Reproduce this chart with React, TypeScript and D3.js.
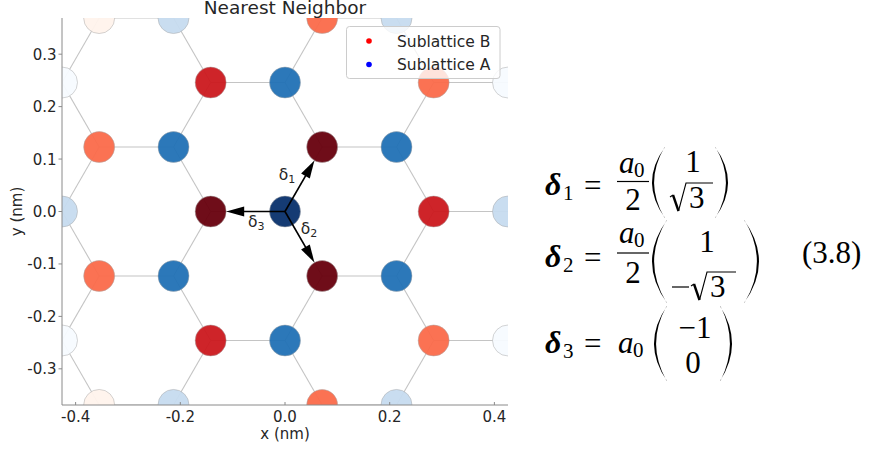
import React from "react";
import * as d3 from "d3";

const W = 880;
const H = 450;

// graphene carbon-carbon distance (nm)
const a0 = 0.142;
const xTicks = [-0.4, -0.2, 0.0, 0.2, 0.4];
const yTicks = [-0.3, -0.2, -0.1, 0.0, 0.1, 0.2, 0.3];
const xLim = [-0.426, 0.426];
const yLim = [-0.369, 0.369];

// neighbour shells around the central A atom (distance in nm) and their colours
const shellA = [0, 0.246, 0.426, 0.492];
const colorA = ["#08306b", "#2171b5", "#c6dbef", "#f7fbff"];
const shellB = [0.142, 0.284, 0.376, 0.512];
const colorB = ["#67000d", "#cb181d", "#fb6a4a", "#fff3ec"];

// nearest neighbour vectors in units of a0
const deltaNames = ["1", "2", "3"];
const deltaX = [0.5, 0.5, -1];
const deltaY = [Math.sqrt(3) / 2, -Math.sqrt(3) / 2, 0];
// where the δ labels sit (nm)
const labelX = [0.004, 0.046, -0.055];
const labelY = [0.07, -0.034, -0.02];

const legendNames = ["Sublattice B", "Sublattice A"];
const legendColors = ["#ff0000", "#0000ff"];

const cellRange = d3.range(-4, 5);

const margin = { left: 62, right: 372, top: 18, bottom: 45 };
const x = d3.scaleLinear().domain(xLim).range([margin.left, W - margin.right]);
const y = d3.scaleLinear().domain(yLim).range([H - margin.bottom, margin.top]);

const R = 15.5;

function shellColor(d: number, shells: number[], colors: string[]) {
  let best = colors.length - 1;
  shells.forEach((s, i) => {
    if (Math.abs(d - s) < 0.012) best = i;
  });
  return colors[best];
}

type Atom = { x: number; y: number; sub: "A" | "B"; color: string };

const atoms: Atom[] = [];
const bonds: { x1: number; y1: number; x2: number; y2: number }[] = [];
cellRange.forEach((i) => {
  cellRange.forEach((j) => {
    const ax = 1.5 * a0 * (i + j);
    const ay = (Math.sqrt(3) / 2) * a0 * (i - j);
    if (Math.abs(ax) > 0.7 || Math.abs(ay) > 0.6) return;
    atoms.push({ x: ax, y: ay, sub: "A", color: shellColor(Math.hypot(ax, ay), shellA, colorA) });
    const bx = ax + a0 * deltaX[2];
    const by = ay + a0 * deltaY[2];
    atoms.push({ x: bx, y: by, sub: "B", color: shellColor(Math.hypot(bx, by), shellB, colorB) });
    deltaX.forEach((dx, k) => {
      bonds.push({ x1: ax, y1: ay, x2: ax + a0 * dx, y2: ay + a0 * deltaY[k] });
    });
  });
});

const fmt = d3.format(".1f");
const tickColor = "#262626";
const spineColor = "#8a8a8a";

function Arrow({ k }: { k: number }) {
  const ox = x(0);
  const oy = y(0);
  const tx = x(a0 * deltaX[k]);
  const ty = y(a0 * deltaY[k]);
  const len = Math.hypot(tx - ox, ty - oy);
  const ux = (tx - ox) / len;
  const uy = (ty - oy) / len;
  const tipX = tx - ux * R;
  const tipY = ty - uy * R;
  const hl = 18;
  const hw = 5;
  const bx = tipX - ux * hl;
  const by = tipY - uy * hl;
  const pts = [
    [tipX, tipY],
    [bx - uy * hw, by + ux * hw],
    [bx + uy * hw, by - ux * hw],
  ];
  return (
    <g>
      <line x1={ox} y1={oy} x2={bx + ux * 2} y2={by + uy * 2} stroke="#000" strokeWidth={1.6} />
      <polygon points={pts.map((p) => p.join(",")).join(" ")} fill="#000" />
    </g>
  );
}

// big parenthesis drawn as a filled crescent
function Paren({ x0, x1, top, bot, right }: { x0: number; x1: number; top: number; bot: number; right?: boolean }) {
  // x0: extreme (bulge) x, x1: tips x
  const th = right ? -2.4 : 2.4;
  const mid = (top + bot) / 2;
  const c1 = 2 * x0 - x1;
  const c2 = 2 * (x0 + th) - x1;
  const e = right ? 0.6 : -0.6;
  const d = `M${x1},${top} Q${c1},${mid} ${x1},${bot} L${x1 + e},${bot - 0.5} Q${c2},${mid} ${x1 + e},${top + 0.5} Z`;
  return <path d={d} fill="#000" />;
}

function Radical({ x0, base, bar }: { x0: number; base: number; bar: number }) {
  const top = base - 24;
  return (
    <g fill="none" stroke="#000" strokeLinejoin="miter">
      <path d={`M${x0},${base - 10} L${x0 + 3},${base - 12}`} strokeWidth={1.1} />
      <path d={`M${x0 + 3},${base - 12} L${x0 + 8.5},${base + 4}`} strokeWidth={2.4} />
      <path d={`M${x0 + 8.5},${base + 4} L${x0 + 16},${top} L${x0 + 16 + bar},${top}`} strokeWidth={1.1} />
    </g>
  );
}

const mathFont = "Liberation Serif";
const FS = 31;
const SUB = 21;

function Delta({ px, base, sub }: { px: number; base: number; sub: string }) {
  return (
    <g fontFamily={mathFont}>
      <text x={px} y={base} fontSize={FS + 1} fontWeight="bold" fontStyle="italic">δ</text>
      <text x={px + 18} y={base + 5} fontSize={SUB}>{sub}</text>
    </g>
  );
}

function A0({ px, base }: { px: number; base: number }) {
  return (
    <g fontFamily={mathFont}>
      <text x={px} y={base} fontSize={FS} fontStyle="italic">a</text>
      <text x={px + 15} y={base + 4} fontSize={SUB}>0</text>
    </g>
  );
}

function Equations() {
  const t = { fontFamily: mathFont, fontSize: FS, fill: "#000" } as const;
  return (
    <g>
      {/* δ1 */}
      <Delta px={545} base={195} sub="1" />
      <text {...t} x={584} y={196}>=</text>
      <A0 px={619} base={173} />
      <line x1={617} x2={649} y1={181.5} y2={181.5} stroke="#000" strokeWidth={1.2} />
      <text {...t} x={633} y={210} textAnchor="middle">2</text>
      <Paren x0={652} x1={665} top={147} bot={218} />
      <text {...t} x={693} y={172} textAnchor="middle">1</text>
      <Radical x0={670} base={207} bar={27} />
      <text {...t} x={689} y={208}>3</text>
      <Paren x0={728} x1={715} top={147} bot={218} right />

      {/* δ2 */}
      <Delta px={545} base={267} sub="2" />
      <text {...t} x={584} y={268}>=</text>
      <A0 px={619} base={243} />
      <line x1={617} x2={649} y1={253} y2={253} stroke="#000" strokeWidth={1.2} />
      <text {...t} x={633} y={283} textAnchor="middle">2</text>
      <Paren x0={652} x1={667} top={220} bot={303} />
      <text {...t} x={707} y={252} textAnchor="middle">1</text>
      <line x1={672} x2={689} y1={287} y2={287} stroke="#000" strokeWidth={1.2} />
      <Radical x0={691} base={296} bar={29} />
      <text {...t} x={710} y={297}>3</text>
      <Paren x0={759} x1={744} top={220} bot={303} right />
      <text {...t} x={802} y={263}>(3.8)</text>

      {/* δ3 */}
      <Delta px={545} base={353} sub="3" />
      <text {...t} x={584} y={354}>=</text>
      <A0 px={618} base={353} />
      <Paren x0={654} x1={667} top={306} bot={381} />
      <text {...t} x={695} y={338} textAnchor="middle">−1</text>
      <text {...t} x={693} y={373} textAnchor="middle">0</text>
      <Paren x0={732} x1={720} top={306} bot={381} right />
    </g>
  );
}

export default function App() {
  const [x0, x1] = x.range();
  const [y0, y1] = y.range();
  return (
    <svg width={W} height={H} style={{ position: "absolute", left: 0, top: 0, background: "#fff" }}>
      <defs>
        <clipPath id="plot">
          <rect x={x0} y={y1} width={x1 - x0} height={y0 - y1} />
        </clipPath>
      </defs>
      <g clipPath="url(#plot)">
        {bonds.map((b, i) => (
          <line key={i} x1={x(b.x1)} y1={y(b.y1)} x2={x(b.x2)} y2={y(b.y2)} stroke="#c4c4c4" strokeWidth={1.1} />
        ))}
        {atoms.map((a, i) => (
          <circle key={i} cx={x(a.x)} cy={y(a.y)} r={R} fill={a.color} fillOpacity={0.95} stroke="#a8a8a8" strokeWidth={0.7} strokeOpacity={0.7} />
        ))}
      </g>
      {/* spines */}
      <line x1={x0} x2={x0} y1={y1} y2={y0} stroke={spineColor} strokeWidth={1} />
      <line x1={x0} x2={x1} y1={y0} y2={y0} stroke={spineColor} strokeWidth={1} />
      <g fontFamily="DejaVu Sans" fontSize={15} fill={tickColor}>
        {xTicks.map((t) => (
          <g key={t}>
            <line x1={x(t)} x2={x(t)} y1={y0 - 3} y2={y0} stroke={spineColor} />
            <text x={x(t)} y={y0 + 16.5} textAnchor="middle">{fmt(t).replace("−", "-")}</text>
          </g>
        ))}
        {yTicks.map((t) => (
          <g key={t}>
            <line x1={x0 - 3.5} x2={x0} y1={y(t)} y2={y(t)} stroke={spineColor} />
            <text x={x0 - 5.5} y={y(t) + 5.5} textAnchor="end">{fmt(t).replace("−", "-")}</text>
          </g>
        ))}
      </g>
      <g fontFamily="DejaVu Sans" fontSize={15} fill={tickColor}>
        <text x={(x0 + x1) / 2} y={439} textAnchor="middle">x (nm)</text>
        <text transform={`translate(22,${(y0 + y1) / 2}) rotate(-90)`} textAnchor="middle">y (nm)</text>
        <text x={(x0 + x1) / 2} y={14} textAnchor="middle" fontSize={18.5}>Nearest Neighbor</text>
      </g>
      {/* nearest neighbour vectors */}
      {deltaNames.map((n, k) => (
        <Arrow key={n} k={k} />
      ))}
      <g fontFamily="DejaVu Sans" fill={tickColor}>
        {deltaNames.map((n, k) => (
          <text key={n} x={x(labelX[k])} y={y(labelY[k]) + 5} textAnchor="middle" fontSize={15.5}>
            δ<tspan fontSize={11} dy={3}>{n}</tspan>
          </text>
        ))}
      </g>
      {/* legend */}
      <g>
        <rect x={346.5} y={26.5} width={153.5} height={52} rx={3} fill="#fff" fillOpacity={0.8} stroke="#cccccc" strokeWidth={1} />
        {legendNames.map((n, i) => (
          <g key={n}>
            <circle cx={369} cy={41 + i * 23.5} r={2.8} fill={legendColors[i]} />
            <text x={397} y={46.5 + i * 23.5} fontFamily="DejaVu Sans" fontSize={15.5} fill={tickColor}>{n}</text>
          </g>
        ))}
      </g>
      <Equations />
    </svg>
  );
}
